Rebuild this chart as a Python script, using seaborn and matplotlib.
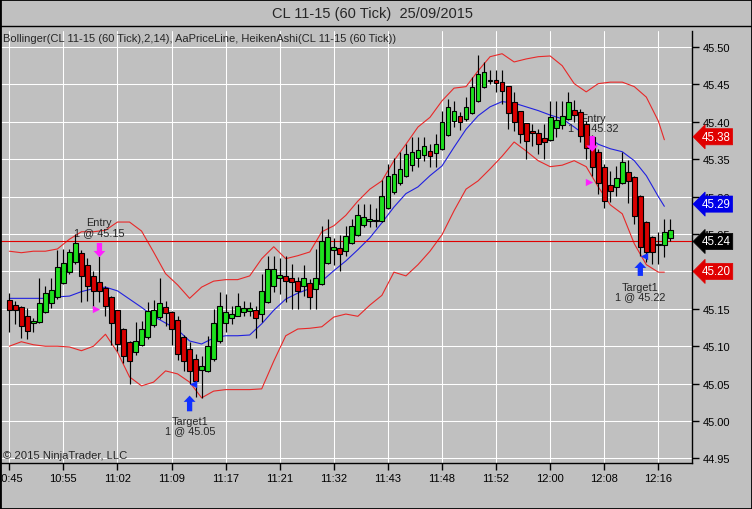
import numpy as np
import pandas as pd
import seaborn as sns
import matplotlib.pyplot as plt
import matplotlib.transforms as mtransforms
from matplotlib.patches import Rectangle
from matplotlib.lines import Line2D

# Heiken Ashi candles (CL 11-15, 60 tick), one row per bar
ha_open = [45.162, 45.155, 45.152, 45.141, 45.131, 45.133, 45.146, 45.158, 45.166, 45.185,
           45.199, 45.213, 45.225, 45.209, 45.194, 45.186, 45.178, 45.166, 45.148, 45.123,
           45.106, 45.092, 45.102, 45.112, 45.128, 45.139, 45.153, 45.146, 45.135, 45.112,
           45.096, 45.083, 45.068, 45.067, 45.083, 45.107, 45.131, 45.138, 45.140, 45.146,
           45.147, 45.149, 45.143, 45.159, 45.181, 45.191, 45.194, 45.191, 45.187, 45.181,
           45.185, 45.177, 45.183, 45.211, 45.229, 45.231, 45.227, 45.238, 45.249, 45.262,
           45.267, 45.268, 45.268, 45.285, 45.306, 45.318, 45.328, 45.342, 45.352, 45.356,
           45.361, 45.358, 45.364, 45.382, 45.401, 45.408, 45.404, 45.412, 45.428, 45.447,
           45.455, 45.456, 45.453, 45.448, 45.427, 45.414, 45.398, 45.388, 45.385, 45.378,
           45.376, 45.392, 45.396, 45.404, 45.416, 45.413, 45.397, 45.380, 45.360, 45.340,
           45.316, 45.313, 45.318, 45.333, 45.326, 45.301, 45.266, 45.246, 45.235, 45.235,
           45.245]
ha_close = [45.148, 45.148, 45.127, 45.120, 45.134, 45.158, 45.171, 45.175, 45.206, 45.211,
            45.226, 45.238, 45.194, 45.181, 45.174, 45.174, 45.154, 45.131, 45.103, 45.087,
            45.080, 45.107, 45.123, 45.147, 45.148, 45.158, 45.145, 45.123, 45.090, 45.080,
            45.067, 45.054, 45.074, 45.100, 45.131, 45.154, 45.146, 45.143, 45.154, 45.151,
            45.151, 45.138, 45.174, 45.203, 45.203, 45.195, 45.187, 45.186, 45.174, 45.191,
            45.166, 45.191, 45.241, 45.246, 45.233, 45.223, 45.247, 45.261, 45.276, 45.273,
            45.270, 45.269, 45.301, 45.328, 45.330, 45.337, 45.357, 45.360, 45.362, 45.368,
            45.354, 45.370, 45.400, 45.420, 45.415, 45.400, 45.420, 45.447, 45.464, 45.467,
            45.456, 45.452, 45.441, 45.412, 45.400, 45.384, 45.374, 45.385, 45.370, 45.373,
            45.407, 45.402, 45.408, 45.427, 45.409, 45.381, 45.365, 45.340, 45.318, 45.294,
            45.308, 45.325, 45.346, 45.321, 45.274, 45.233, 45.226, 45.226, 45.236, 45.253,
            45.255]
ha_high = [45.171, 45.161, 45.154, 45.151, 45.138, 45.191, 45.181, 45.191, 45.229, 45.230,
           45.230, 45.250, 45.229, 45.218, 45.201, 45.221, 45.181, 45.167, 45.149, 45.124,
           45.107, 45.132, 45.134, 45.159, 45.162, 45.191, 45.161, 45.147, 45.140, 45.115,
           45.106, 45.090, 45.087, 45.114, 45.150, 45.173, 45.170, 45.154, 45.171, 45.161,
           45.159, 45.154, 45.197, 45.221, 45.221, 45.218, 45.221, 45.210, 45.193, 45.209,
           45.190, 45.230, 45.261, 45.270, 45.244, 45.249, 45.261, 45.270, 45.290, 45.290,
           45.290, 45.285, 45.322, 45.344, 45.352, 45.360, 45.370, 45.380, 45.380, 45.380,
           45.370, 45.384, 45.415, 45.430, 45.428, 45.413, 45.433, 45.460, 45.489, 45.480,
           45.469, 45.469, 45.469, 45.448, 45.440, 45.414, 45.398, 45.397, 45.390, 45.397,
           45.428, 45.428, 45.428, 45.440, 45.429, 45.417, 45.401, 45.382, 45.364, 45.344,
           45.334, 45.341, 45.360, 45.349, 45.328, 45.302, 45.267, 45.247, 45.253, 45.270,
           45.270]
ha_low = [45.119, 45.130, 45.111, 45.110, 45.119, 45.131, 45.144, 45.151, 45.163, 45.183,
          45.197, 45.210, 45.159, 45.161, 45.151, 45.159, 45.140, 45.102, 45.094, 45.078,
          45.050, 45.088, 45.100, 45.110, 45.126, 45.136, 45.127, 45.102, 45.082, 45.067,
          45.050, 45.032, 45.031, 45.066, 45.080, 45.104, 45.119, 45.130, 45.140, 45.140,
          45.140, 45.111, 45.132, 45.158, 45.173, 45.170, 45.159, 45.150, 45.150, 45.167,
          45.150, 45.150, 45.182, 45.210, 45.209, 45.201, 45.221, 45.237, 45.248, 45.259,
          45.259, 45.259, 45.266, 45.283, 45.304, 45.316, 45.326, 45.334, 45.340, 45.348,
          45.340, 45.340, 45.362, 45.381, 45.393, 45.389, 45.401, 45.411, 45.427, 45.445,
          45.451, 45.440, 45.424, 45.390, 45.388, 45.371, 45.350, 45.368, 45.357, 45.350,
          45.374, 45.380, 45.390, 45.403, 45.400, 45.373, 45.350, 45.328, 45.304, 45.285,
          45.293, 45.301, 45.317, 45.292, 45.263, 45.221, 45.213, 45.210, 45.210, 45.219,
          45.241]

# Bollinger(2,14) read at every second bar
band_bar = list(range(0, 109, 2)) + [109]
bb_upper = [45.227, 45.225, 45.227, 45.227, 45.230, 45.243, 45.253, 45.253, 45.255, 45.266,
            45.266, 45.254, 45.226, 45.197, 45.182, 45.164, 45.179, 45.187, 45.189, 45.189,
            45.194, 45.217, 45.233, 45.217, 45.221, 45.226, 45.253, 45.261, 45.275, 45.294,
            45.310, 45.321, 45.348, 45.370, 45.393, 45.406, 45.428, 45.445, 45.447, 45.468,
            45.487, 45.491, 45.480, 45.484, 45.487, 45.488, 45.475, 45.451, 45.440, 45.451,
            45.453, 45.453, 45.447, 45.433, 45.401, 45.376]
bb_mid = [45.164, 45.164, 45.164, 45.164, 45.166, 45.167, 45.173, 45.177, 45.179, 45.174,
          45.163, 45.152, 45.140, 45.131, 45.122, 45.107, 45.103, 45.111, 45.114, 45.114,
          45.115, 45.130, 45.148, 45.163, 45.171, 45.177, 45.187, 45.201, 45.214, 45.229,
          45.245, 45.265, 45.286, 45.304, 45.313, 45.328, 45.341, 45.366, 45.390, 45.408,
          45.420, 45.427, 45.425, 45.420, 45.415, 45.409, 45.404, 45.393, 45.381, 45.370,
          45.364, 45.360, 45.348, 45.328, 45.300, 45.287]
bb_lower = [45.100, 45.106, 45.102, 45.100, 45.100, 45.099, 45.094, 45.100, 45.116, 45.092,
            45.059, 45.047, 45.052, 45.067, 45.063, 45.052, 45.031, 45.040, 45.042, 45.042,
            45.042, 45.043, 45.080, 45.114, 45.123, 45.124, 45.126, 45.139, 45.143, 45.140,
            45.155, 45.168, 45.199, 45.194, 45.209, 45.227, 45.249, 45.281, 45.310, 45.321,
            45.337, 45.354, 45.373, 45.361, 45.348, 45.340, 45.342, 45.348, 45.340, 45.313,
            45.289, 45.277, 45.237, 45.209, 45.199, 45.199]

tick_bars = [0, 9, 18, 27, 36, 45, 54, 63, 72, 81, 90, 99, 108]
tick_labels = ["10:45", "10:55", "11:02", "11:09", "11:17", "11:21", "11:32",
               "11:43", "11:48", "11:52", "12:00", "12:08", "12:16"]
price_ticks = [44.95, 45.00, 45.05, 45.10, 45.15, 45.20, 45.25, 45.30, 45.35, 45.40, 45.45, 45.50]

last_price = 45.24
marker_prices = [45.38, 45.29, 45.24, 45.20]
marker_colors = ["#E00000", "#0000E8", "#000000", "#E00000"]

# trades: entry fill / target fill
entry_bar = [15, 97]
entry_fill_bar = [14.5, 96.4]
entry_price = [45.15, 45.32]
entry_arrow = [(45.238, 45.219), (45.381, 45.360)]
entry_text_pos = [(14.9, 45.259), (97.1, 45.399)]
target_bar = [30, 105]
target_fill_bar = [30.5, 105.6]
target_price = [45.05, 45.22]
target_arrow = [(45.013, 45.034), (45.194, 45.213)]
target_text_pos = [(30.1, 44.994), (105.0, 45.173)]

BG = "#C0C0C0"
sns.set_style("ticks", {"axes.facecolor": BG, "figure.facecolor": BG,
                        "grid.color": "white", "axes.edgecolor": "black"})
plt.rcParams['font.family'] = ['Liberation Sans', 'DejaVu Sans']

fig = plt.figure(figsize=(7.52, 5.10), dpi=100, facecolor=BG)
ax = fig.add_axes([0.0, 0.0902, 0.9202, 0.8471])

df = pd.DataFrame({"bar": np.arange(len(ha_open)), "o": ha_open, "c": ha_close,
                   "h": ha_high, "l": ha_low})
df["bottom"] = df[["o", "c"]].min(axis=1)
df["height"] = (df["c"] - df["o"]).abs().clip(lower=0.0012)
df["col"] = np.where(df["c"] >= df["o"], "#1EE01E", "#D80000")

ax.vlines(df["bar"], df["l"], df["h"], color="black", lw=0.85, zorder=3)
ax.bar(df["bar"], df["height"], bottom=df["bottom"], width=0.8, color=df["col"],
       edgecolor="black", linewidth=0.8, zorder=4)

bands = pd.DataFrame({"bar": band_bar, "upper": bb_upper, "mid": bb_mid, "lower": bb_lower})
sns.lineplot(data=bands, x="bar", y="upper", color="#E82828", lw=0.8, ax=ax, zorder=2.5)
sns.lineplot(data=bands, x="bar", y="lower", color="#E82828", lw=0.8, ax=ax, zorder=2.5)
sns.lineplot(data=bands, x="bar", y="mid", color="#2020E0", lw=0.8, ax=ax, zorder=2.5)

ax.axhline(last_price, color="#E00000", lw=0.8, zorder=2.6)

# trade markers
arrow_style = "simple,head_length=0.45,head_width=0.85,tail_width=0.38"
for i in range(2):
    ax.scatter([entry_fill_bar[i]], [entry_price[i]], marker=">", s=28, color="#FF20FF",
               zorder=6, linewidths=0)
    ax.annotate("", xy=(entry_bar[i], entry_arrow[i][1]), xytext=(entry_bar[i], entry_arrow[i][0]),
                arrowprops=dict(arrowstyle=arrow_style, fc="#FF20FF", ec="none",
                                mutation_scale=10, shrinkA=0, shrinkB=0), zorder=6)
    ax.text(entry_text_pos[i][0], entry_text_pos[i][1], "Entry\n%d @ %.2f" % (1, entry_price[i]),
            ha="center", va="center", fontsize=7.8, linespacing=0.95, zorder=2.7)
    ax.scatter([target_fill_bar[i]], [target_price[i]], marker="<", s=28, color="#1030FF",
               zorder=6, linewidths=0)
    ax.annotate("", xy=(target_bar[i], target_arrow[i][1]), xytext=(target_bar[i], target_arrow[i][0]),
                arrowprops=dict(arrowstyle=arrow_style, fc="#1030FF", ec="none",
                                mutation_scale=10, shrinkA=0, shrinkB=0), zorder=6)
    ax.text(target_text_pos[i][0], target_text_pos[i][1], "Target1\n%d @ %.2f" % (1, target_price[i]),
            ha="center", va="center", fontsize=7.8, linespacing=0.95, zorder=2.7)

ax.set_xlim(-1.55, 113.6)
ax.set_ylim(44.9439, 45.5214)
ax.set_xticks(tick_bars, tick_labels)
ax.set_yticks(price_ticks, ["%.2f" % p for p in price_ticks])
ax.yaxis.tick_right()
ax.grid(True, color="white", lw=0.75, zorder=0)
ax.set_axisbelow(True)
ax.set_xlabel("")
ax.set_ylabel("")
for s in ["left", "top"]:
    ax.spines[s].set_visible(False)
for s in ["right", "bottom"]:
    ax.spines[s].set_linewidth(1)
ax.tick_params(axis="x", length=5, width=1, pad=2, labelsize=8, colors="black")
ax.tick_params(axis="y", length=5, width=1, pad=3, labelsize=8, colors="black")

trans = mtransforms.blended_transform_factory(ax.transAxes, ax.transData)
for p, c in zip(marker_prices, marker_colors):
    ax.text(1.014, p, "%.2f" % p, transform=trans, ha="left", va="center", color="white",
            fontsize=8.3, zorder=10, clip_on=False,
            bbox=dict(boxstyle="larrow,pad=0.18", fc=c, ec=c, lw=0.5))

fig.text(372 / 752, 1 - 14 / 510, "CL 11-15 (60 Tick)  25/09/2015", ha="center", va="center",
         fontsize=10.5)
fig.text(3 / 752, 1 - 39 / 510,
         "Bollinger(CL 11-15 (60 Tick),2,14), AaPriceLine, HeikenAshi(CL 11-15 (60 Tick))",
         ha="left", va="center", fontsize=8.0)
fig.text(3 / 752, 1 - 456 / 510, "\u00a9 2015 NinjaTrader, LLC", ha="left", va="center",
         fontsize=8.1)
fig.add_artist(Line2D([0, 1], [1 - 27 / 510, 1 - 27 / 510], color="black", lw=1))
fig.add_artist(Rectangle((0, 0), 1, 1, transform=fig.transFigure, fill=False,
                         ec="black", lw=2))

fig.savefig("out.png", dpi=100, facecolor=BG)
